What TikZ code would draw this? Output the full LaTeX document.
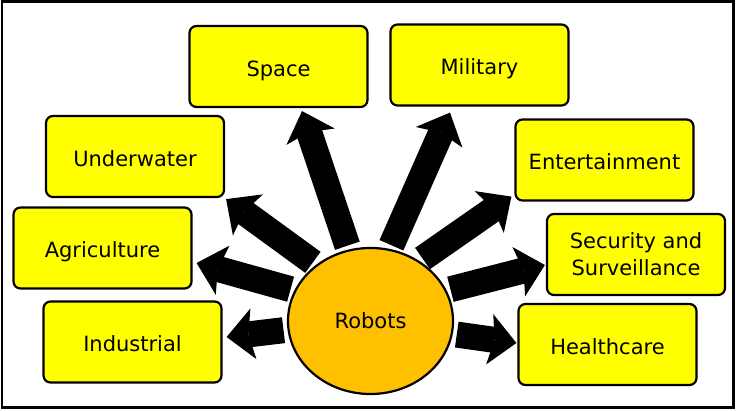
\documentclass[tikz,border=0pt]{standalone}
\usepackage{fontspec}
\setmainfont{DejaVu Sans}
\usetikzlibrary{arrows.meta,shapes.geometric}
\definecolor{areayellow}{RGB}{255,255,0}
\definecolor{hubgold}{RGB}{255,192,0}

\begin{document}
\begin{tikzpicture}[x=1pt,y=-1pt,
	area/.style={draw=black,line width=2.2pt,fill=areayellow,rounded corners=7pt,
		minimum width=178pt,minimum height=81pt,align=center,inner sep=2pt,
		text height=20pt,text depth=0pt,
		font=\fontsize{21}{27}\selectfont},
	hub/.style={ellipse,draw=black,line width=2.2pt,fill=hubgold,
		minimum width=165pt,minimum height=146pt,inner sep=0pt,
		font=\fontsize{21}{27}\selectfont},
	ray/.style={line width=26pt,shorten <=4pt,
		-{Stealth[length=27pt,width=51pt,inset=5pt,line width=0pt 0]}}]
	\useasboundingbox (0,0) rectangle (736,411);
	\draw[line width=2.2pt] (2,1.5) rectangle (733.5,407.5);

	% centre
	\node[hub] (robots) at (370.5,321) {Robots};

	% fields of use
	\node[area] (space) at (278.5,66.5) {Space};
	\node[area] (military) at (479.5,65) {Military};
	\node[area] (underwater) at (135,156.5) {Underwater};
	\node[area] (entertainment) at (604.5,160) {Entertainment};
	\node[area] (agriculture) at (102.5,248) {Agriculture};
	\node[area,text height=,text depth=] (security) at (636,254.5) {Security and\\Surveillance};
	\node[area] (industrial) at (132.5,342) {Industrial};
	\node[area] (healthcare) at (607.5,344.5) {Healthcare};

	% arrow tips
	\coordinate (tSpace) at ([xshift=23.5pt,yshift=-3pt]space.south);
	\coordinate (tMilitary) at ([xshift=-29.5pt,yshift=-6pt]military.south);
	\coordinate (tUnderwater) at ([xshift=1pt,yshift=-1pt]underwater.south east);
	\coordinate (tEntertainment) at ([xshift=-3pt,yshift=5pt]entertainment.south west);
	\coordinate (tAgriculture) at ([xshift=4pt,yshift=-15pt]agriculture.east);
	\coordinate (tSecurity) at ([xshift=-1pt,yshift=-10.5pt]security.west);
	\coordinate (tIndustrial) at ([xshift=4pt,yshift=5pt]industrial.east);
	\coordinate (tHealthcare) at ([xshift=-1pt,yshift=1.5pt]healthcare.west);

	\draw[ray] (robots.134) -- (tUnderwater);
	\draw[ray] (robots.107) -- (tSpace);
	\draw[ray] (robots.75) -- (tMilitary);
	\draw[ray] (robots.51) -- (tEntertainment);
	\draw[ray] (robots.158) -- (tAgriculture);
	\draw[ray] (robots.22) -- (tSecurity);
	\draw[ray] (robots.186) -- (tIndustrial);
	\draw[ray] (robots.-9) -- (tHealthcare);
\end{tikzpicture}
\end{document}
